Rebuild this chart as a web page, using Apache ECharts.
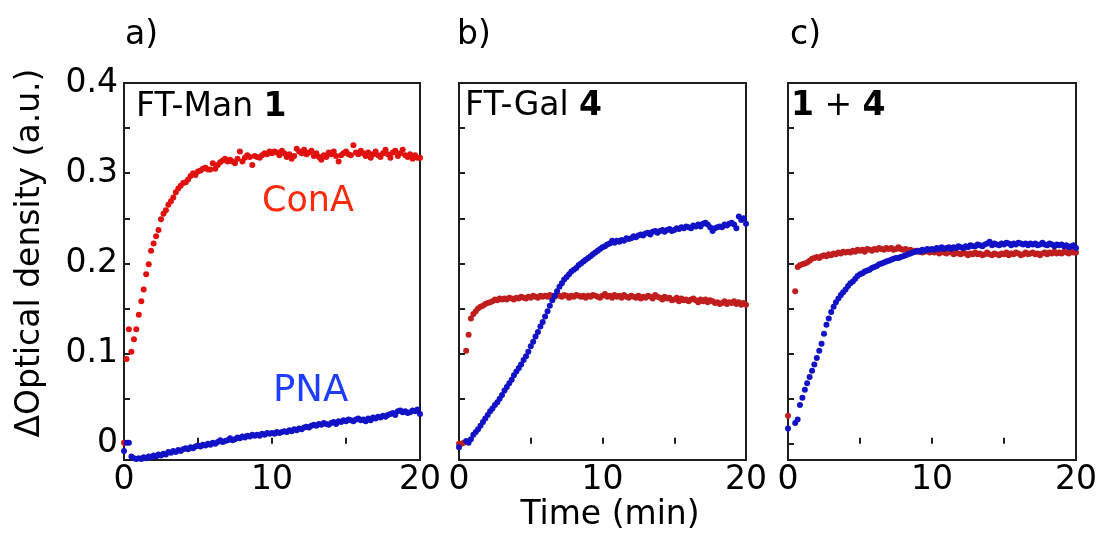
<!DOCTYPE html>
<html>
<head>
<meta charset="utf-8">
<script src="https://cdn.jsdelivr.net/npm/echarts@6/dist/echarts.min.js"></script>
<style>html,body{margin:0;padding:0;background:#fff;}#c{width:1103px;height:534px;}</style>
</head>
<body>
<div id="c"></div>
<script>
// time axis (min), one reading every 10 s
const times = [
0,0.17,0.33,0.5,0.67,0.83,
1,1.17,1.33,1.5,1.67,1.83,
2,2.17,2.33,2.5,2.67,2.83,
3,3.17,3.33,3.5,3.67,3.83,
4,4.17,4.33,4.5,4.67,4.83,
5,5.17,5.33,5.5,5.67,5.83,
6,6.17,6.33,6.5,6.67,6.83,
7,7.17,7.33,7.5,7.67,7.83,
8,8.17,8.33,8.5,8.67,8.83,
9,9.17,9.33,9.5,9.67,9.83,
10,10.17,10.33,10.5,10.67,10.83,
11,11.17,11.33,11.5,11.67,11.83,
12,12.17,12.33,12.5,12.67,12.83,
13,13.17,13.33,13.5,13.67,13.83,
14,14.17,14.33,14.5,14.67,14.83,
15,15.17,15.33,15.5,15.67,15.83,
16,16.17,16.33,16.5,16.67,16.83,
17,17.17,17.33,17.5,17.67,17.83,
18,18.17,18.33,18.5,18.67,18.83,
19,19.17,19.33,19.5,19.67,19.83,
20];

// a) FT-Man 1
const manConA = [
.001,.094,.127,.102,.116,.127,
.143,.158,.171,.188,.199,.214,
.222,.230,.237,.249,.255,.259,
.265,.269,.273,.279,.283,.286,
.289,.290,.293,.297,.300,.298,
.302,.303,.305,.306,.304,.304,
.311,.305,.309,.312,.314,.316,
.313,.315,.313,.311,.316,.324,
.313,.317,.320,.318,.309,.319,
.318,.317,.320,.322,.321,.324,
.322,.324,.323,.320,.325,.322,
.318,.321,.316,.319,.327,.324,
.322,.326,.321,.323,.325,.319,
.322,.318,.315,.320,.318,.323,
.321,.324,.319,.313,.320,.322,
.324,.321,.320,.331,.323,.321,
.325,.322,.319,.323,.317,.321,
.324,.320,.318,.322,.326,.321,
.317,.323,.325,.319,.322,.326,
.320,.318,.321,.316,.320,.317,
.317];
const manPNA = [
-.008,.001,.001,-.014,-.016,-.017,
-.016,-.017,-.015,-.016,-.014,-.015,
-.013,-.014,-.012,-.013,-.011,-.012,
-.009,-.010,-.008,-.009,-.007,-.008,
-.006,-.005,-.006,-.004,-.005,-.003,
-.002,-.003,-.001,-.002,.000,-.001,
.001,.000,.002,.004,.002,.003,
.004,.006,.004,.005,.007,.006,
.008,.007,.009,.008,.010,.009,
.010,.009,.011,.010,.012,.011,
.012,.011,.013,.012,.013,.014,
.013,.015,.014,.016,.015,.017,
.016,.018,.019,.018,.020,.021,
.020,.022,.021,.023,.022,.021,
.023,.024,.022,.025,.024,.026,
.025,.027,.026,.025,.027,.028,
.026,.027,.025,.028,.026,.029,
.028,.030,.029,.031,.030,.032,
.033,.034,.032,.036,.037,.035,
.036,.034,.035,.037,.036,.038,
.033];

// b) FT-Gal 4
const galConA = [
.000,.000,.001,.103,.121,.139,
.144,.147,.150,.152,.153,.155,
.156,.157,.158,.160,.159,.161,
.160,.161,.160,.162,.161,.160,
.162,.161,.163,.162,.161,.163,
.162,.164,.163,.162,.164,.163,
.164,.163,.165,.164,.163,.165,
.164,.163,.165,.164,.162,.164,
.163,.165,.164,.163,.164,.162,
.164,.163,.165,.164,.163,.162,
.164,.166,.163,.164,.162,.165,
.163,.164,.162,.165,.163,.162,
.164,.163,.162,.164,.161,.163,
.162,.164,.163,.161,.165,.163,
.162,.160,.163,.161,.162,.159,
.160,.162,.158,.161,.159,.160,
.158,.160,.161,.159,.157,.160,
.158,.160,.157,.159,.158,.156,
.157,.155,.156,.158,.155,.157,
.156,.158,.155,.157,.154,.156,
.154];
const galPNA = [
-.004,null,null,.003,.001,.005,
.010,.013,.016,.020,.024,.028,
.032,.036,.039,.043,.046,.050,
.054,.059,.063,.067,.071,.076,
.080,.084,.088,.093,.097,.102,
.108,.113,.119,.124,.130,.135,
.141,.147,.153,.159,.164,.169,
.174,.178,.182,.185,.188,.191,
.193,.195,.198,.200,.202,.204,
.206,.208,.210,.212,.214,.216,
.218,.219,.221,.222,.225,.223,
.225,.224,.226,.225,.228,.227,
.228,.230,.229,.231,.232,.231,
.233,.234,.232,.235,.236,.234,
.236,.237,.235,.237,.238,.236,
.237,.239,.238,.240,.239,.241,
.240,.239,.242,.241,.243,.241,
.244,.245,.243,.240,.236,.239,
.240,.241,.240,.243,.242,.244,
.245,.243,.239,.252,.248,.250,
.244];

// c) 1 + 4
const mixConA = [
.031,null,null,.169,.196,.198,
.199,.200,.201,.203,.205,.206,
.207,.206,.208,.209,.208,.210,
.209,.211,.210,.212,.211,.213,
.212,.213,.212,.214,.213,.215,
.214,.215,.213,.216,.215,.214,
.216,.215,.217,.216,.215,.217,
.216,.217,.215,.216,.218,.216,
.215,.216,.214,.215,.213,.214,
.213,.214,.212,.213,.214,.212,
.213,.212,.214,.211,.213,.212,
.211,.213,.212,.210,.212,.211,
.210,.212,.211,.209,.211,.210,
.212,.210,.211,.209,.210,.212,
.210,.209,.211,.210,.209,.211,
.210,.212,.209,.211,.210,.212,
.211,.209,.210,.212,.210,.211,
.212,.210,.211,.209,.211,.212,
.210,.212,.211,.213,.211,.212,
.211,.213,.212,.211,.213,.212,
.212];
const mixPNA = [
.017,null,null,.023,.027,.043,
.051,.060,.067,.074,.081,.088,
.095,.103,.111,.122,.132,.139,
.146,.152,.157,.161,.165,.168,
.171,.175,.178,.180,.183,.186,
.188,.189,.191,.192,.193,.195,
.196,.197,.199,.200,.201,.202,
.203,.204,.205,.206,.206,.207,
.208,.209,.210,.211,.212,.213,
.214,.213,.215,.214,.216,.215,
.216,.215,.217,.216,.218,.216,
.217,.218,.216,.218,.217,.219,
.218,.217,.219,.218,.220,.219,
.219,.221,.220,.219,.221,.222,
.224,.220,.222,.221,.220,.222,
.221,.223,.222,.220,.222,.221,
.223,.222,.221,.222,.220,.222,
.221,.222,.220,.221,.223,.221,
.220,.222,.221,.219,.221,.220,
.221,.219,.220,.218,.219,.220,
.217];

const xLabelValues = [0, 10, 20];
const xTickValues = [5, 10, 15];
const yLabelValues = [0, 0.1, 0.2, 0.3, 0.4];
const yTickValues = [0, 0.05, 0.1, 0.15, 0.2, 0.25, 0.3, 0.35];

const FONT = '"DejaVu Sans", sans-serif';
const RED_A = '#e0110e', RED_BC = '#c01e1e', BLUE = '#1212c6';

function pts(vals) {
  const out = [];
  vals.forEach((v, i) => { if (v !== null) out.push([times[i], v]); });
  return out;
}

const grids = [
  {left: 124, top: 83, width: 296, height: 377},
  {left: 459, top: 83, width: 287, height: 377},
  {left: 788, top: 83, width: 288, height: 377}
].map(g => Object.assign({show: true, borderColor: '#1e1e1e', borderWidth: 2, backgroundColor: 'transparent'}, g));

function xAx(gi) {
  return {
    type: 'value', gridIndex: gi, min: 0, max: 20,
    axisLine: {show: false}, splitLine: {show: false},
    axisTick: {show: true, inside: true, length: 6, customValues: xTickValues, lineStyle: {color: '#1e1e1e', width: 2}},
    axisLabel: {customValues: xLabelValues, fontFamily: FONT, fontSize: 33, color: '#000', margin: 4}
  };
}
function yAx(gi, labels) {
  return {
    type: 'value', gridIndex: gi, min: -0.018, max: 0.4,
    axisLine: {show: false}, splitLine: {show: false},
    axisTick: {show: true, inside: true, length: 6, customValues: yTickValues, lineStyle: {color: '#1e1e1e', width: 2}},
    axisLabel: labels ? {customValues: yLabelValues, fontFamily: FONT, fontSize: 33, color: '#000', margin: 6} : {show: false}
  };
}
function sc(gi, vals, color) {
  return {type: 'scatter', xAxisIndex: gi, yAxisIndex: gi, data: pts(vals), symbol: 'circle', symbolSize: 6,
    itemStyle: {color: color, opacity: 1}, silent: true, animation: false};
}
function txt(x, y, text, size, color) {
  return {type: 'text', x: x, y: y, silent: true,
    style: {text: text, fill: color || '#000', fontFamily: FONT, fontSize: size, align: 'left', verticalAlign: 'middle',
      textAlign: 'left', textVerticalAlign: 'middle'}};
}
function richTxt(x, y, text) {
  return {type: 'text', x: x, y: y, silent: true,
    style: {text: text, fill: '#000', fontFamily: FONT, fontSize: 33, align: 'left', verticalAlign: 'middle',
      textAlign: 'left', textVerticalAlign: 'middle',
      rich: {n: {fontFamily: FONT, fontSize: 33, color: '#000'}, b: {fontFamily: FONT, fontSize: 33, fontWeight: 'bold', color: '#000'}}}};
}

const chart = echarts.init(document.getElementById('c'), null, {renderer: 'canvas'});
chart.setOption({
  animation: false,
  backgroundColor: '#fff',
  grid: grids,
  xAxis: [xAx(0), xAx(1), xAx(2)],
  yAxis: [yAx(0, true), yAx(1, false), yAx(2, false)],
  series: [
    sc(0, manConA, RED_A), sc(0, manPNA, BLUE),
    sc(1, galConA, RED_BC), sc(1, galPNA, BLUE),
    sc(2, mixConA, RED_BC), sc(2, mixPNA, BLUE)
  ],
  graphic: [
    txt(125, 35, 'a)', 33),
    txt(457, 35, 'b)', 33),
    txt(790, 35, 'c)', 33),
    richTxt(136, 107, '{n|FT-Man }{b|1}'),
    richTxt(465, 106, '{n|FT-Gal }{b|4}'),
    richTxt(791, 106, '{b|1}{n| + }{b|4}'),
    txt(262, 202, 'ConA', 35, '#ff2a0c'),
    txt(273, 391, 'PNA', 37, '#1f3dff'),
    {type: 'text', x: 610, y: 515, silent: true,
      style: {text: 'Time (min)', fill: '#000', fontFamily: FONT, fontSize: 33, align: 'center', verticalAlign: 'middle', textAlign: 'center', textVerticalAlign: 'middle'}},
    {type: 'text', x: 30, y: 253, rotation: Math.PI / 2, silent: true,
      style: {text: 'ΔOptical density (a.u.)', fill: '#000', fontFamily: FONT, fontSize: 33, align: 'center', verticalAlign: 'middle', textAlign: 'center', textVerticalAlign: 'middle'}}
  ]
});
</script>
</body>
</html>
